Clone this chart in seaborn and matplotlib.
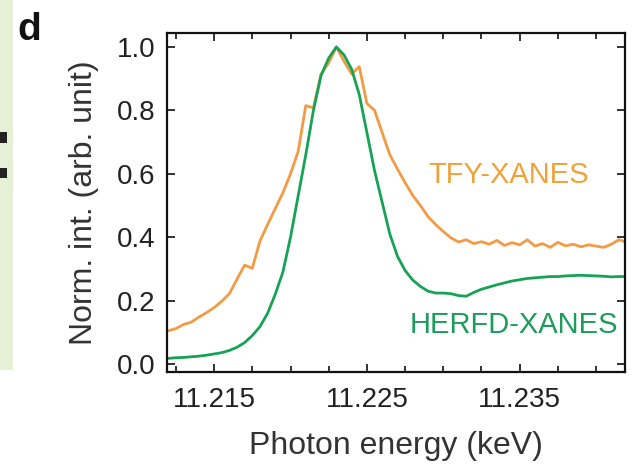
# xanes_panel_d.py
import numpy as np
import pandas as pd
import matplotlib
matplotlib.use("Agg")
import matplotlib.pyplot as plt
from matplotlib.patches import Rectangle
from matplotlib.ticker import MultipleLocator
import seaborn as sns

# photon energy grid (keV)
energy = [
    11.2120, 11.2125, 11.2130, 11.2135, 11.2140, 11.2145, 11.2150, 11.2155,
    11.2160, 11.2165, 11.2170, 11.2175, 11.2180, 11.2185, 11.2190, 11.2195,
    11.2200, 11.2205, 11.2210, 11.2215, 11.2220, 11.2225, 11.2230, 11.2235,
    11.2240, 11.2245, 11.2250, 11.2255, 11.2260, 11.2265, 11.2270, 11.2275,
    11.2280, 11.2285, 11.2290, 11.2295, 11.2300, 11.2305, 11.2310, 11.2315,
    11.2320, 11.2325, 11.2330, 11.2335, 11.2340, 11.2345, 11.2350, 11.2355,
    11.2360, 11.2365, 11.2370, 11.2375, 11.2380, 11.2385, 11.2390, 11.2395,
    11.2400, 11.2405, 11.2410, 11.2415, 11.2420,
]

# total fluorescence yield XANES (normalised)
tfy = [
    0.105, 0.112, 0.125, 0.132, 0.148, 0.162, 0.178, 0.198,
    0.222, 0.268, 0.312, 0.302, 0.388, 0.440, 0.490, 0.540,
    0.600, 0.670, 0.815, 0.808, 0.915, 0.950, 1.000, 0.955,
    0.915, 0.938, 0.822, 0.800, 0.730, 0.660, 0.615, 0.572,
    0.532, 0.500, 0.465, 0.440, 0.418, 0.398, 0.385, 0.392,
    0.380, 0.386, 0.378, 0.390, 0.374, 0.383, 0.376, 0.392,
    0.372, 0.380, 0.368, 0.384, 0.373, 0.378, 0.370, 0.376,
    0.372, 0.368, 0.378, 0.392, 0.384,
]

# high energy resolution fluorescence detected XANES (normalised)
herfd = [
    0.018, 0.020, 0.021, 0.023, 0.025, 0.028, 0.032, 0.036,
    0.043, 0.053, 0.068, 0.090, 0.118, 0.160, 0.220, 0.290,
    0.400, 0.530, 0.660, 0.800, 0.910, 0.965, 1.000, 0.975,
    0.930, 0.850, 0.730, 0.610, 0.510, 0.410, 0.340, 0.295,
    0.265, 0.245, 0.230, 0.224, 0.224, 0.222, 0.216, 0.214,
    0.226, 0.236, 0.243, 0.250, 0.256, 0.262, 0.266, 0.270,
    0.272, 0.274, 0.276, 0.276, 0.278, 0.279, 0.280, 0.279,
    0.278, 0.277, 0.275, 0.276, 0.276,
]

x_ticks = [11.215, 11.225, 11.235]
y_ticks = [0.0, 0.2, 0.4, 0.6, 0.8, 1.0]

ORANGE = "#F39A45"
GREEN = "#17A356"
TXT_ORANGE = "#F0A23A"
TXT_GREEN = "#1E9C5C"

sns.set_theme(style="ticks")
plt.rcParams['font.family'] = ['Liberation Sans', 'DejaVu Sans']
plt.rcParams['text.color'] = '#333333'
plt.rcParams['axes.labelcolor'] = '#333333'
plt.rcParams['xtick.color'] = '#222222'
plt.rcParams['ytick.color'] = '#222222'

df = pd.DataFrame({
    'Energy': energy * 2,
    'Intensity': tfy + herfd,
    'Mode': ['TFY-XANES'] * len(energy) + ['HERFD-XANES'] * len(energy),
})

fig = plt.figure(figsize=(6.34, 4.67), dpi=100)
ax = fig.add_axes([0.263, 0.2034, 0.723, 0.7259])

sns.lineplot(data=df, x='Energy', y='Intensity', hue='Mode',
             palette={'TFY-XANES': ORANGE, 'HERFD-XANES': GREEN},
             hue_order=['TFY-XANES', 'HERFD-XANES'],
             linewidth=2.0, legend=False, ax=ax)

ax.set_xlim(11.2119, 11.2419)
ax.set_ylim(-0.025, 1.044)
ax.set_xticks(x_ticks)
ax.set_xticklabels([f"{t:.3f}" for t in x_ticks])
ax.xaxis.set_minor_locator(MultipleLocator(0.0025))
ax.set_yticks(y_ticks)
ax.set_yticklabels([f"{t:.1f}" for t in y_ticks])

ax.tick_params(which='both', direction='in', top=True, right=True, width=1.3)
ax.tick_params(which='major', length=6, labelsize=20, pad=8)
ax.tick_params(axis='x', which='major', pad=11)
ax.tick_params(which='minor', length=4)
for s in ax.spines.values():
    s.set_linewidth(1.6)
    s.set_color('#111111')

ax.set_xlabel('Photon energy (keV)', fontsize=23, labelpad=13)
ax.set_ylabel('Norm. int. (arb. unit)', fontsize=23, labelpad=13)

ax.text(11.2343, 0.596, 'TFY-XANES', color=TXT_ORANGE, fontsize=21,
        ha='center', va='center')
ax.text(11.2346, 0.123, 'HERFD-XANES', color=TXT_GREEN, fontsize=21,
        ha='center', va='center')

# panel letter and the edge of the neighbouring panel
fig.text(0.027, 0.915, 'd', fontsize=28, fontweight='bold', color='#111111')
fig.patches.append(Rectangle((0, 0.207), 0.021, 0.793, transform=fig.transFigure,
                             facecolor='#E6F0D6', edgecolor='none', zorder=-1))
fig.patches.append(Rectangle((0, 0.694), 0.011, 0.024, transform=fig.transFigure,
                             facecolor='#222222', edgecolor='none'))
fig.patches.append(Rectangle((0, 0.619), 0.011, 0.022, transform=fig.transFigure,
                             facecolor='#222222', edgecolor='none'))

fig.savefig('out.png', dpi=100)
